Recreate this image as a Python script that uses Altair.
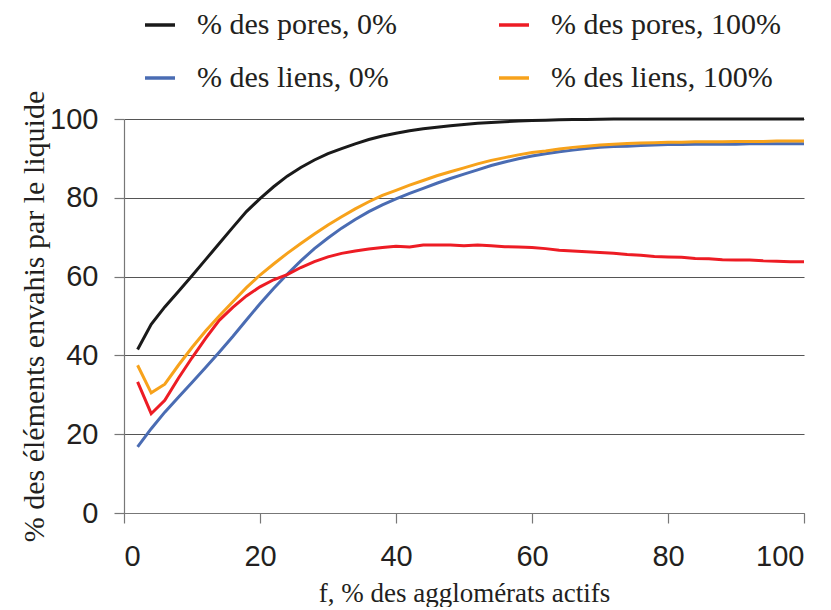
import altair as alt
import pandas as pd

f_vals = list(range(2, 101, 2))

pores_0 = [41.5, 47.9, 52.3, 56.2, 60.2, 64.3, 68.4, 72.5, 76.5, 79.8,
           82.8, 85.5, 87.7, 89.6, 91.2, 92.5, 93.7, 94.8, 95.7, 96.4,
           97.0, 97.5, 97.9, 98.3, 98.6, 98.9, 99.1, 99.3, 99.5, 99.6,
           99.7, 99.8, 99.85, 99.9, 99.95, 100.0, 100.0, 100.0, 100.0, 100.0,
           100.0, 100.0, 100.0, 100.0, 100.0, 100.0, 100.0, 100.0, 100.0, 100.0]

pores_100 = [33.3, 25.2, 28.6, 34.2, 39.4, 44.3, 48.9, 52.2, 55.1, 57.4,
             59.2, 60.5, 62.3, 63.8, 65.0, 65.9, 66.5, 67.0, 67.4, 67.7,
             67.5, 68.0, 68.0, 68.0, 67.8, 68.0, 67.8, 67.6, 67.5, 67.4,
             67.1, 66.7, 66.5, 66.3, 66.1, 65.9, 65.6, 65.4, 65.1, 65.0,
             64.9, 64.6, 64.5, 64.3, 64.2, 64.2, 64.0, 63.9, 63.8, 63.8]

liens_0 = [16.8, 21.4, 25.6, 29.4, 33.1, 36.9, 40.8, 44.8, 49.0, 53.1,
           57.0, 60.6, 64.0, 67.1, 69.8, 72.3, 74.5, 76.5, 78.2, 79.7,
           81.1, 82.4, 83.7, 84.9, 86.0, 87.1, 88.2, 89.1, 89.9, 90.6,
           91.2, 91.7, 92.1, 92.5, 92.8, 93.0, 93.1, 93.3, 93.4, 93.5,
           93.5, 93.6, 93.6, 93.6, 93.6, 93.7, 93.7, 93.7, 93.7, 93.7]

liens_100 = [37.5, 30.5, 32.7, 37.5, 42.0, 46.2, 50.0, 53.6, 57.2, 60.4,
             63.2, 65.9, 68.4, 70.8, 73.1, 75.2, 77.2, 79.0, 80.6, 81.9,
             83.2, 84.4, 85.6, 86.6, 87.6, 88.6, 89.5, 90.2, 90.9, 91.5,
             91.9, 92.4, 92.8, 93.1, 93.4, 93.6, 93.8, 93.9, 94.0, 94.1,
             94.1, 94.2, 94.2, 94.2, 94.3, 94.3, 94.3, 94.4, 94.4, 94.4]

# legend is filled column by column: first column = the 0% series
series_names = ["% des pores, 0%", "% des liens, 0%",
                "% des pores, 100%", "% des liens, 100%"]
series_values = [pores_0, liens_0, pores_100, liens_100]
series_colors = ["#1a1a1a", "#4a6cb3", "#ed1c24", "#f7a21b"]

x_ticks = [0, 20, 40, 60, 80, 100]
y_ticks = [0, 20, 40, 60, 80, 100]

rows = []
for name, vals in zip(series_names, series_values):
    for f, v in zip(f_vals, vals):
        rows.append({"f": f, "v": v, "serie": name})
df = pd.DataFrame(rows)

text_color = "#231f20"
serif = "Liberation Serif"
sans = "Liberation Sans"

chart = alt.Chart(df).mark_line(strokeWidth=3).encode(
    x=alt.X("f:Q",
            scale=alt.Scale(domain=[0, 100], nice=False),
            axis=alt.Axis(values=x_ticks, grid=False,
                          title="f, % des agglomérats actifs",
                          titleFont=serif, titleFontSize=27, titleFontWeight="normal",
                          titleColor=text_color, titleBaseline="alphabetic", titleY=88,
                          labelFont=sans, labelFontSize=29, labelColor=text_color,
                          labelPadding=19, tickSize=10, tickColor="#777777",
                          domainColor="#777777", domainWidth=1.2, tickWidth=1.2)),
    y=alt.Y("v:Q",
            scale=alt.Scale(domain=[0, 100], nice=False),
            axis=alt.Axis(values=y_ticks, grid=True, gridColor="#555555", gridWidth=1.2,
                          title="% des éléments envahis par le liquide",
                          titleFont=serif, titleFontSize=30, titleFontWeight="normal",
                          titleColor=text_color, titleBaseline="alphabetic",
                          titleX=-81, titleY=197,
                          labelFont=sans, labelFontSize=29, labelColor=text_color,
                          labelPadding=16, tickSize=10, tickColor="#777777",
                          domainColor="#777777", domainWidth=1.2, tickWidth=1.2)),
    color=alt.Color("serie:N",
                    scale=alt.Scale(domain=series_names, range=series_colors),
                    legend=alt.Legend(title=None, orient="none", legendX=19, legendY=-111,
                                      columns=2, columnPadding=95, rowPadding=21,
                                      padding=0, labelFont=serif, labelFontSize=30,
                                      labelColor=text_color, labelOffset=20, labelLimit=400,
                                      symbolType="stroke", symbolSize=900,
                                      symbolStrokeWidth=3.5)),
).properties(
    width=680, height=394,
    autosize=alt.AutoSizeParams(type="none"),
    padding={"left": 116, "top": 111, "right": 19, "bottom": 94},
).configure_view(stroke=None)

chart.save("out.html", embed_options={"renderer": "svg", "actions": False})
